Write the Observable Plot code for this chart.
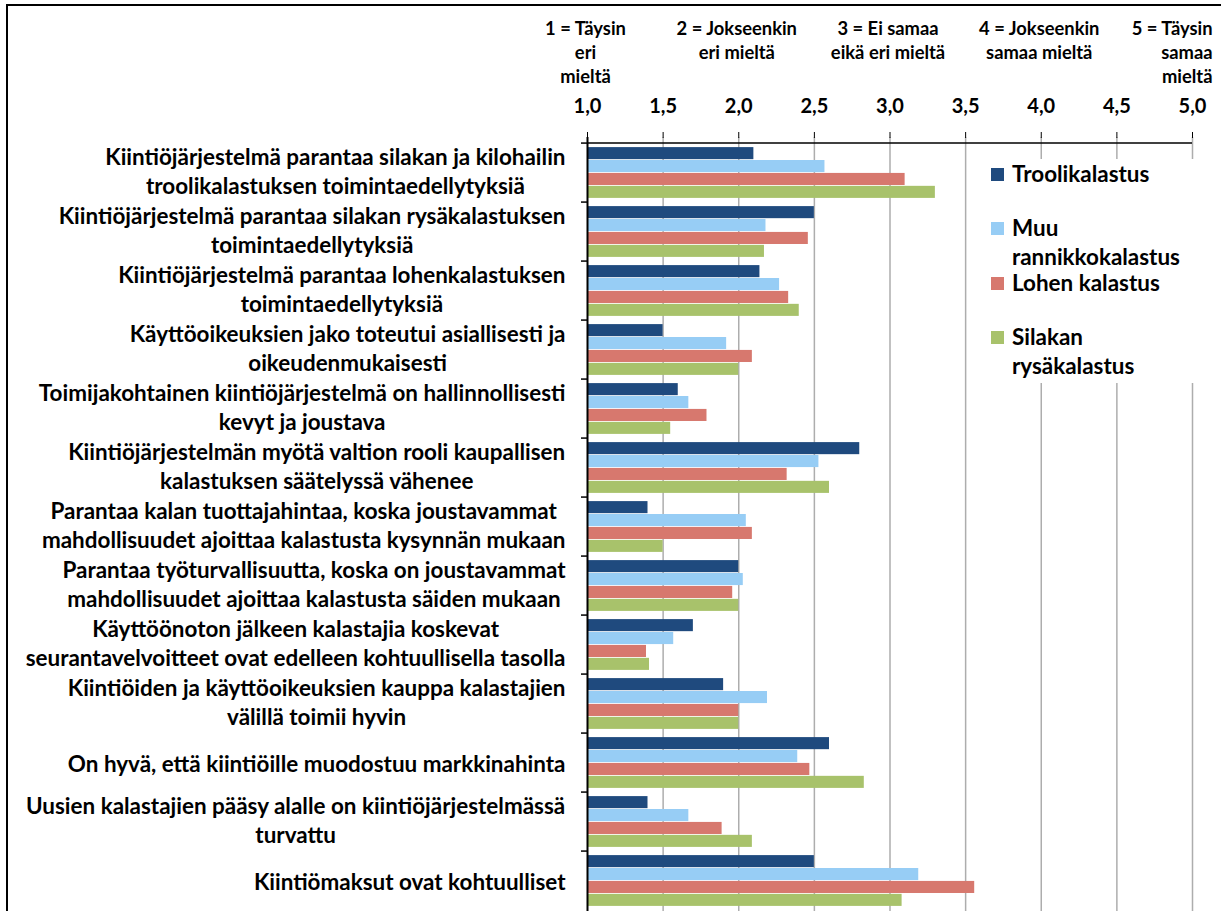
<!DOCTYPE html>
<html><head><meta charset="utf-8">
<script src="https://cdn.jsdelivr.net/npm/d3@7"></script>
<script src="https://cdn.jsdelivr.net/npm/@observablehq/plot@0.6"></script>
<style>
html,body{margin:0;padding:0;background:#fff;overflow:hidden;width:1221px;height:911px}
#wrap{position:relative;width:1221px;height:911px;overflow:hidden}
#border{position:absolute;left:6px;top:4px;width:1230px;height:920px;border-top:2.5px solid #000;border-left:2.5px solid #000}
#chart{position:absolute;left:0;top:0}
#legend{position:absolute;left:968px;top:159px;width:253px;height:224px;background:#fff}
.item{position:relative;height:54.3px}
.sw{position:absolute;left:23px;top:9px;width:13px;height:13px}
.lab{position:absolute;left:44px;line-height:20px;white-space:pre;font-weight:bold;color:#000}
</style></head>
<body><div id="wrap"><div id="border"></div><div id="chart"></div><div id="legend"></div></div>
<script>
const FONT = "Lato, 'Open Sans', sans-serif";

const categories = [
  "Kiintiöjärjestelmä parantaa silakan ja kilohailin\ntroolikalastuksen toimintaedellytyksiä",
  "Kiintiöjärjestelmä parantaa silakan rysäkalastuksen\ntoimintaedellytyksiä",
  "Kiintiöjärjestelmä parantaa lohenkalastuksen\ntoimintaedellytyksiä",
  "Käyttöoikeuksien jako toteutui asiallisesti ja\noikeudenmukaisesti",
  "Toimijakohtainen kiintiöjärjestelmä on hallinnollisesti\nkevyt ja joustava",
  "Kiintiöjärjestelmän myötä valtion rooli kaupallisen\nkalastuksen säätelyssä vähenee",
  "Parantaa kalan tuottajahintaa, koska joustavammat\nmahdollisuudet ajoittaa kalastusta kysynnän mukaan",
  "Parantaa työturvallisuutta, koska on joustavammat\nmahdollisuudet ajoittaa kalastusta säiden mukaan",
  "Käyttöönoton jälkeen kalastajia koskevat\nseurantavelvoitteet ovat edelleen kohtuullisella tasolla",
  "Kiintiöiden ja käyttöoikeuksien kauppa kalastajien\nvälillä toimii hyvin",
  "On hyvä, että kiintiöille muodostuu markkinahinta",
  "Uusien kalastajien pääsy alalle on kiintiöjärjestelmässä\nturvattu",
  "Kiintiömaksut ovat kohtuulliset"
];

const seriesNames = ["Troolikalastus", "Muu rannikkokalastus", "Lohen kalastus", "Silakan rysäkalastus"];
const legendLabels = ["Troolikalastus", "Muu\nrannikkokalastus", "Lohen kalastus", "Silakan\nrysäkalastus"];
const seriesColors = ["#1f4a7e", "#97cdf5", "#d7786e", "#a8c26b"];

const troolikalastus = [2.10, 2.50, 2.14, 1.50, 1.60, 2.80, 1.40, 2.00, 1.70, 1.90, 2.60, 1.40, 2.50];
const muuRannikkokalastus = [2.57, 2.18, 2.27, 1.92, 1.67, 2.53, 2.05, 2.03, 1.57, 2.19, 2.39, 1.67, 3.19];
const lohenKalastus = [3.10, 2.46, 2.33, 2.09, 1.79, 2.32, 2.09, 1.96, 1.39, 2.00, 2.47, 1.89, 3.56];
const silakanRysakalastus = [3.30, 2.17, 2.40, 2.00, 1.55, 2.60, 1.50, 2.00, 1.41, 2.00, 2.83, 2.09, 3.08];

const xTicks = [1, 1.5, 2, 2.5, 3, 3.5, 4, 4.5, 5];
const scaleValues = [1, 2, 3, 4, 5];
const scaleLabels = [
  "1 = Täysin\neri\nmieltä",
  "2 = Jokseenkin\neri mieltä",
  "3 = Ei samaa\neikä eri mieltä",
  "4 = Jokseenkin\nsamaa mieltä",
  "5 = Täysin\nsamaa\nmieltä"
];

const seriesValues = [troolikalastus, muuRannikkokalastus, lohenKalastus, silakanRysakalastus];
const rows = categories.flatMap((c, i) => seriesNames.map((s, j) => ({category: c, series: s, j, value: seriesValues[j][i]})));
const header = scaleValues.map((v, i) => ({v, label: scaleLabels[i]}));

// text measurement for font fitting
const ctx = document.createElement("canvas").getContext("2d");
function textWidth(s, size) { ctx.font = `bold ${size}px ${FONT}`; return ctx.measureText(s).width; }
function fitSize(s, target) { return 20 * target / textWidth(s, 20); }

const labFs = fitSize("seurantavelvoitteet ovat edelleen kohtuullisella tasolla", 540);
const hdrFs = fitSize("2 = Jokseenkin", 121);
const legFs = fitSize("rannikkokalastus", 168);
const tickFs = 20;

const W = 1221, H = 915, mt = 137, mb = 0, ml = 587, mr = 29;
const step = (H - mt - mb) / categories.length;
const gap = 8.2;
const bh = (step - gap) / 4;

const marks = [
  Plot.ruleX(xTicks.filter(t => t > 1), {x: d => d, stroke: "#adadad", strokeWidth: 1.5}),
  ...seriesNames.map((s, j) => Plot.barX(rows.filter(r => r.j === j), {
    y: "category", x1: () => 1, x2: "value", fill: "series",
    insetTop: gap / 2 + j * bh, insetBottom: step - gap / 2 - (j + 1) * bh
  })),
  Plot.ruleX([1], {x: d => d, stroke: "#000", strokeWidth: 2}),
  Plot.ruleY(categories, {y: d => d, dy: -step / 2, x1: () => 1, x2: () => 1, insetLeft: -6, stroke: "#000", strokeWidth: 1.5}),
  Plot.ruleY([categories[0]], {y: d => d, dy: -step / 2, stroke: "#000", strokeWidth: 1.5}),
  Plot.axisX(xTicks, {anchor: "top", tickFormat: d => d.toFixed(1).replace(".", ","), tickSize: 6, tickPadding: 19, fontSize: tickFs, fontWeight: "bold", stroke: "#000"}),
  Plot.text(header.slice(0, 4), {x: "v", text: "label", frameAnchor: "top", lineAnchor: "top", textAnchor: "middle", dy: -120, dx: -2, fontSize: hdrFs, lineHeight: 24 / hdrFs, fontWeight: "bold", fill: "#000"}),
  Plot.text(header.slice(4), {x: "v", text: "label", frameAnchor: "top", lineAnchor: "top", textAnchor: "end", dy: -120, dx: 20, fontSize: hdrFs, lineHeight: 24 / hdrFs, fontWeight: "bold", fill: "#000"}),
  ...categories.map(c => {
    const lines = c.split("\n");
    const w = Math.max(...lines.map(l => textWidth(l, labFs)));
    return Plot.text([c], {y: d => d, text: d => d, frameAnchor: "left", textAnchor: "middle", dx: -22 - w / 2, dy: lines.length > 1 ? -3 : -0.5, fontSize: labFs, lineHeight: 29 / labFs, fontWeight: "bold", fill: "#000"});
  })
];

const chart = Plot.plot({
  width: W, height: H,
  marginLeft: ml, marginRight: mr, marginTop: mt, marginBottom: mb,
  style: {fontFamily: FONT, fontWeight: "bold", color: "#000", background: "transparent", overflow: "visible"},
  x: {domain: [1, 5], axis: null},
  y: {domain: categories, padding: 0, axis: null},
  color: {domain: seriesNames, range: seriesColors},
  marks
});
document.getElementById("chart").appendChild(chart);

// legend
const leg = document.getElementById("legend");
legendLabels.forEach((l, j) => {
  const item = document.createElement("div"); item.className = "item";
  const sw = document.createElement("div"); sw.className = "sw"; sw.style.background = seriesColors[j];
  item.appendChild(sw);
  l.split("\n").forEach((line, k) => {
    const lab = document.createElement("div"); lab.className = "lab"; lab.textContent = line;
    lab.style.top = (5 + 30 * k - (k ? 1 : 0)) + "px";
    lab.style.fontSize = legFs + "px"; lab.style.fontFamily = FONT;
    item.appendChild(lab);
  });
  leg.appendChild(item);
});
</script>
</body></html>
